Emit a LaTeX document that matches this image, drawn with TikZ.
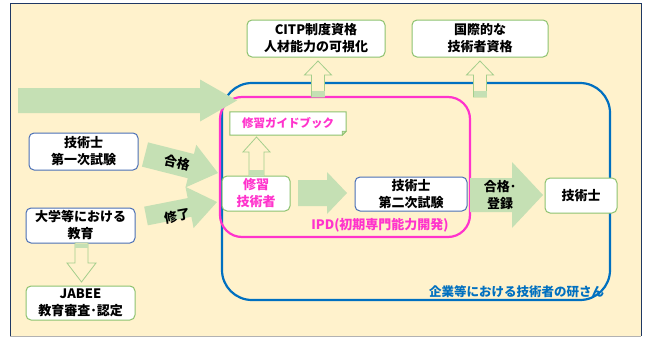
\documentclass[tikz,border=0pt]{standalone}
\usepackage{fontspec}
\setmainfont{Noto Sans CJK JP}
\usetikzlibrary{calc}
\definecolor{cream}{HTML}{FFF2CC}
\definecolor{navy}{HTML}{1F3864}
\definecolor{arrgreen}{HTML}{C5E0B4}
\definecolor{boxgreen}{HTML}{8DC26F}
\definecolor{boxblue}{HTML}{4A6FB5}
\definecolor{frameblue}{HTML}{0070C0}
\definecolor{magenta2}{HTML}{FF33CC}
\newcommand\fatarrow[7]{%
  \coordinate (#1-c) at ($(#4)!#7!(#3)$);
  \path[#2] ($(#3)!#5!90:(#4)$) -- ($(#1-c)!#5!90:(#4)$) -- ($(#1-c)!#6!90:(#4)$) -- (#4)
    -- ($(#1-c)!#6!-90:(#4)$) -- ($(#1-c)!#5!-90:(#4)$) -- ($(#3)!#5!-90:(#4)$) -- cycle;}
\tikzset{
  box/.style={draw, fill=white, rounded corners=5pt, line width=1pt, align=center, inner sep=0pt,
    font=\bfseries\fontsize{13}{17}\selectfont},
  gbox/.style={box, draw=boxgreen},
  bbox/.style={box, draw=boxblue},
  solidarr/.style={fill=arrgreen},
  hollowarr/.style={draw=boxgreen!80, fill=cream, line width=0.8pt, line join=miter},
  lbl/.style={font=\bfseries\fontsize{13}{17}\selectfont, align=center, inner sep=0pt},
}
\begin{document}
\begin{tikzpicture}[x=1pt,y=-1pt]
\useasboundingbox (0,0) rectangle (645,340);
\fill[cream] (10,3) rectangle (641,336);
\draw[navy, line width=1pt] (10,336) -- (10,3) -- (641,3) -- (641,336);
\draw[gray!60, line width=0.8pt] (10,336) -- (641,336);

% frames
\draw[frameblue, line width=2.2pt, rounded corners=30pt] (222,83) rectangle (610,300);
\draw[magenta2, line width=2.2pt, rounded corners=22pt] (220,97) rectangle (470,237);

% top arrow
\coordinate (topA) at (18,100.5);
\coordinate (topB) at (237,100.5);
\fatarrow{top}{solidarr}{topA}{topB}{12.5pt}{21pt}{37pt}

% boxes
\node[gbox, minimum width=138pt, minimum height=37pt] (citp) at (316,38.5) {CITP制度資格\\人材能力の可視化};
\node[gbox, minimum width=136pt, minimum height=37pt] (kok) at (480,38.5) {国際的な\\技術者資格};
\node[bbox, minimum width=109pt, minimum height=37pt] (first) at (83.5,151.5) {技術士\\第一次試験};
\node[bbox, minimum width=109pt, minimum height=35pt] (univ) at (80.5,225.5) {大学等における\\教育};
\node[gbox, minimum width=109pt, minimum height=34pt] (jabee) at (80.5,303) {JABEE\\教育審査･認定};
\node[gbox, minimum width=68pt, minimum height=35pt, text=magenta2] (shu) at (256,193.5) {修習\\技術者};
\node[bbox, minimum width=112pt, minimum height=34pt] (second) at (411,194) {技術士\\第二次試験};
\node[gbox, minimum width=72pt, minimum height=35pt] (gi) at (581,195.5) {技術士};

% guide book (folded corner)
\node[inner sep=0pt, minimum width=116pt, minimum height=23pt] (guide) at (288,123.5) {};
\draw[boxgreen, fill=white, line width=1pt] (guide.north west) -- (guide.north east)
  -- ([yshift=4pt]guide.south east) -- ([xshift=-4pt]guide.south east) -- (guide.south west) -- cycle;
\draw[boxgreen, fill=boxgreen!50, line width=0.6pt] ([yshift=4pt]guide.south east) -- ([xshift=-4pt,yshift=4pt]guide.south east) -- ([xshift=-4pt]guide.south east) -- cycle;
\node[inner sep=0pt, text=magenta2, font=\bfseries\fontsize{11.5}{14}\selectfont] (guidetext) at (guide.center) {修習ガイドブック};

% hollow up arrows
\coordinate (h1a) at (318,97); \coordinate (h1b) at (318,61);
\fatarrow{h1}{hollowarr}{h1a}{h1b}{6.5pt}{13.5pt}{14pt}
\fill[arrgreen] (311.5,91) rectangle (324.5,96.5);
\coordinate (h2a) at (480,97); \coordinate (h2b) at (480,61);
\fatarrow{h2}{hollowarr}{h2a}{h2b}{6.5pt}{13.5pt}{14pt}
\fill[arrgreen] (473.5,91) rectangle (486.5,96.5);
\coordinate (h3a) at (256.5,175.5); \coordinate (h3b) at (256.5,137);
\fatarrow{h3}{hollowarr}{h3a}{h3b}{7.5pt}{13.5pt}{15pt}
\fill[arrgreen] (249,170) rectangle (264,175.5);
\coordinate (h4a) at (81.5,243); \coordinate (h4b) at (81.5,282);
\fatarrow{h4}{hollowarr}{h4a}{h4b}{6.5pt}{14.5pt}{19pt}
\fill[arrgreen] (75,243.5) rectangle (88,248);

% solid arrows
\coordinate (pa) at (145,154.5); \coordinate (pb) at (218,173);
\fatarrow{p}{solidarr}{pa}{pb}{12.5pt}{22pt}{28pt}
\coordinate (sa) at (146,216); \coordinate (sb) at (217,202);
\fatarrow{s}{solidarr}{sa}{sb}{9.5pt}{21pt}{28pt}
\coordinate (ma) at (298,193); \coordinate (mb) at (347,193);
\fatarrow{m}{solidarr}{ma}{mb}{13pt}{21pt}{20pt}
\coordinate (ra) at (470,195); \coordinate (rb) at (543,195);
\fatarrow{r}{solidarr}{ra}{rb}{17pt}{33pt}{31pt}

% labels
\node[lbl, rotate=-13] (lpass) at (177,163) {合格};
\node[lbl, rotate=10] (lfin) at (177,216) {修了};
\node[lbl] (lreg) at (500,195) {合格･\\登録};
\node[lbl, text=magenta2] (ipd) at (380,225) {IPD(初期専門能力開発)};
\node[lbl, text=frameblue, font=\bfseries\fontsize{12.5}{15}\selectfont] (corp) at (516.5,292) {企業等における技術者の研さん};
\end{tikzpicture}
\end{document}
